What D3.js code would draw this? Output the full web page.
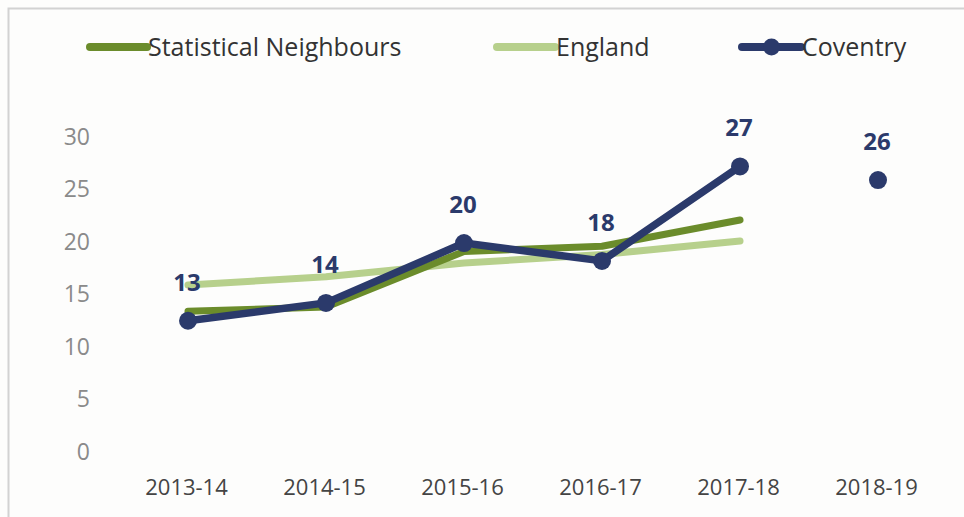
<!DOCTYPE html>
<html>
<head>
<meta charset="utf-8">
<script src="https://cdn.jsdelivr.net/npm/d3@7"></script>
<style>
  html, body { margin: 0; padding: 0; background: #fdfdfc; }
  svg { display: block; }
  text { font-family: "Open Sans", "Noto Sans", sans-serif; }
</style>
</head>
<body>
<svg id="chart" width="964" height="517"></svg>
<script>
const categories = ["2013-14", "2014-15", "2015-16", "2016-17", "2017-18", "2018-19"];
const statNeighbours = [13.4, 13.8, 19.1, 19.6, 22.1, null];
const england = [15.9, 16.7, 18.0, 18.8, 20.1, null];
const coventry = [12.5, 14.2, 19.9, 18.2, 27.2, 25.9];
const coventryLabels = ["13", "14", "20", "18", "27", "26"];
const yTicks = [0, 5, 10, 15, 20, 25, 30];
const seriesNames = ["Statistical Neighbours", "England", "Coventry"];

const colors = { sn: "#6b8c2b", eng: "#b7d08c", cov: "#2b3a6b" };

const svg = d3.select("#chart");

// frame
svg.append("rect").attr("x", 8.5).attr("y", 8.5).attr("width", 970).attr("height", 530)
  .attr("fill", "#fdfdfc").attr("stroke", "#d2d2d2").attr("stroke-width", 2);

const x = d3.scalePoint().domain(categories).range([188, 878]);
const y = d3.scaleLinear().domain([0, 30]).range([452, 137]);

// y axis (labels only)
const yAxis = d3.axisLeft(y).tickValues(yTicks).tickSize(0).tickPadding(0);
const gy = svg.append("g").attr("transform", "translate(90,0)").call(yAxis);
gy.select(".domain").remove();
gy.selectAll("text").attr("fill", "#8a8a8a").style("font-size", "23px")
  .style("font-family", "'Open Sans', sans-serif");

// x axis (labels only)
const xAxis = d3.axisBottom(x).tickSize(0).tickPadding(0);
const gx = svg.append("g").attr("transform", "translate(-2,479)").call(xAxis);
gx.select(".domain").remove();
gx.selectAll("text").attr("fill", "#444").style("font-size", "22px")
  .style("font-family", "'Open Sans', sans-serif");

const line = d3.line()
  .defined(d => d.v != null)
  .x(d => x(d.c))
  .y(d => y(d.v));

function pts(arr) { return categories.map((c, i) => ({ c, v: arr[i] })); }

svg.append("path").datum(pts(england))
  .attr("fill", "none").attr("stroke", colors.eng).attr("stroke-width", 7)
  .attr("stroke-linecap", "round").attr("stroke-linejoin", "round").attr("d", line);

svg.append("path").datum(pts(statNeighbours))
  .attr("fill", "none").attr("stroke", colors.sn).attr("stroke-width", 7)
  .attr("stroke-linecap", "round").attr("stroke-linejoin", "round").attr("d", line);

// Coventry line only across the first five (connected) points
const covPts = pts(coventry);
svg.append("path").datum(covPts.slice(0, 5))
  .attr("fill", "none").attr("stroke", colors.cov).attr("stroke-width", 7.5)
  .attr("stroke-linecap", "round").attr("stroke-linejoin", "round").attr("d", line);

svg.selectAll("circle.cov").data(covPts).enter().append("circle")
  .attr("class", "cov")
  .attr("cx", d => x(d.c)).attr("cy", d => y(d.v)).attr("r", 9)
  .attr("fill", colors.cov);

svg.selectAll("text.lbl").data(covPts).enter().append("text")
  .attr("class", "lbl")
  .attr("x", d => x(d.c) - 1).attr("y", d => y(d.v) - 30)
  .attr("text-anchor", "middle")
  .attr("fill", colors.cov)
  .style("font-size", "24px").style("font-weight", "bold")
  .text((d, i) => coventryLabels[i]);

// legend
const legendItems = [
  { name: seriesNames[0], color: colors.sn, x0: 90, x1: 147, marker: false },
  { name: seriesNames[1], color: colors.eng, x0: 497, x1: 555, marker: false },
  { name: seriesNames[2], color: colors.cov, x0: 742, x1: 801, marker: true }
];
const lg = svg.append("g");
legendItems.forEach(it => {
  lg.append("line").attr("x1", it.x0).attr("x2", it.x1).attr("y1", 47).attr("y2", 47)
    .attr("stroke", it.color).attr("stroke-width", 8).attr("stroke-linecap", "round");
  if (it.marker) {
    lg.append("circle").attr("cx", (it.x0 + it.x1) / 2).attr("cy", 47).attr("r", 8.5).attr("fill", it.color);
  }
  lg.append("text").attr("x", it.x1 + 1).attr("y", 47).attr("dy", "0.35em")
    .attr("fill", "#333").style("font-size", "25px").text(it.name);
});
</script>
</body>
</html>
